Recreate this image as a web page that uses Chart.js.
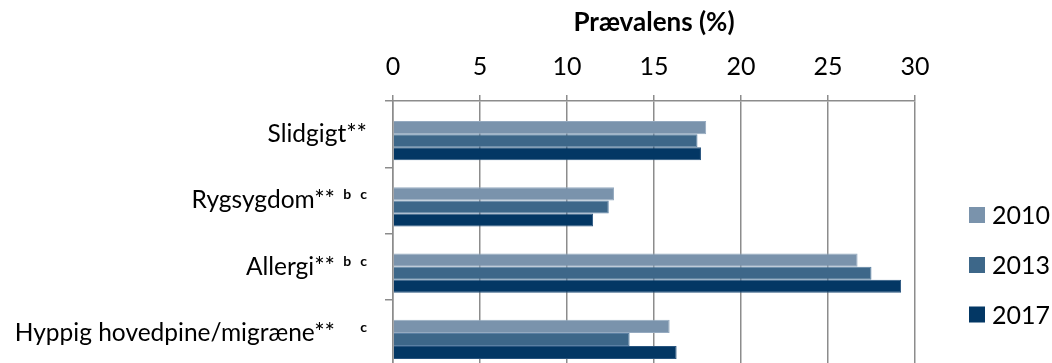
<!DOCTYPE html>
<html>
<head>
<meta charset="utf-8">
<script src="https://cdn.jsdelivr.net/npm/chart.js@4/dist/chart.umd.min.js"></script>
<style>
  html, body { margin: 0; padding: 0; background: #fff; overflow: hidden; }
  #wrap { width: 1052px; height: 366px; position: relative; }
</style>
</head>
<body>
<div id="wrap"><canvas id="chart" width="1052" height="366"></canvas></div>
<script>
// Prevalence (%) by condition and survey year
const categories = ['Slidgigt**', 'Rygsygdom**', 'Allergi**', 'Hyppig hovedpine/migræne**'];
const notes = ['', 'b c', 'b c', 'c'];
const years = ['2010', '2013', '2017'];
const values2010 = [18.0, 12.7, 26.7, 15.9];
const values2013 = [17.5, 12.4, 27.5, 13.6];
const values2017 = [17.7, 11.5, 29.2, 16.3];
const xTicks = [0, 5, 10, 15, 20, 25, 30];

const FONT = 'Lato, "Open Sans", sans-serif';
const GRID = '#8c8c8c';
const fills = ['#7a93ac', '#3d6789', '#033764'];
const edges = ['#95aac0', '#5b80a3', '#29557f'];

// Category labels with bold superscript notes, placed on the y scale's pixels
const categoryLabels = {
  id: 'categoryLabels',
  afterDraw(chart) {
    const { ctx } = chart;
    const y = chart.scales.y;
    const right = 367;
    ctx.save();
    ctx.fillStyle = '#000';
    ctx.textBaseline = 'alphabetic';
    categories.forEach((name, i) => {
      const base = y.getPixelForValue(i) + 8;
      const note = notes[i];
      let x = right;
      if (note) {
        // note letters, right to left, with a wide gap between them
        ctx.font = 'bold 14px ' + FONT;
        ctx.textAlign = 'right';
        const letters = note.split(' ').reverse();
        letters.forEach(ch => {
          ctx.fillText(ch, x, base - 9);
          x -= ctx.measureText(ch).width + 9;
        });
        x = right - 32;
      }
      ctx.font = '24.5px ' + FONT;
      ctx.textAlign = 'right';
      ctx.fillText(name, x, base);
    });
    ctx.restore();
  }
};

// Legend for the three survey years, stacked at the right
const yearLegend = {
  id: 'yearLegend',
  afterDraw(chart) {
    const { ctx } = chart;
    const rows = [215, 265, 314.5];
    ctx.save();
    ctx.font = '25px ' + FONT;
    ctx.textAlign = 'left';
    ctx.textBaseline = 'middle';
    chart.data.datasets.slice(1).forEach((ds, i) => {
      ctx.fillStyle = ds.backgroundColor;
      ctx.fillRect(969, rows[i] - 8, 16, 16);
      ctx.fillStyle = '#000';
      ctx.fillText(ds.label, 992, rows[i] + 1);
    });
    ctx.restore();
  }
};

const datasets = [
  // empty leading slot in each category group
  { label: '', data: categories.map(() => null), backgroundColor: 'rgba(0,0,0,0)' }
].concat(years.map((yr, i) => ({
  label: yr,
  data: [values2010, values2013, values2017][i],
  backgroundColor: fills[i],
  borderColor: edges[i],
  borderWidth: 1,
  borderSkipped: 'start'
})));

new Chart(document.getElementById('chart'), {
  type: 'bar',
  data: { labels: categories, datasets },
  options: {
    indexAxis: 'y',
    responsive: false,
    devicePixelRatio: 1,
    animation: false,
    layout: { padding: { left: 0, right: 137, top: 0, bottom: 0 } },
    datasets: { bar: { categoryPercentage: 0.785, barPercentage: 1.0 } },
    plugins: { legend: { display: false }, tooltip: { enabled: false } },
    scales: {
      x: {
        position: 'top',
        min: 0,
        max: 30,
        afterBuildTicks(scale) { scale.ticks = xTicks.map(v => ({ value: v })); },
        afterFit(scale) { scale.height = 101; },
        ticks: { font: { family: FONT, size: 25 }, color: '#000', padding: 13 },
        grid: { color: GRID, lineWidth: 1.5, tickLength: 6 },
        border: { display: true, color: GRID, width: 1.5 },
        title: {
          display: true,
          text: 'Prævalens (%)',
          font: { family: FONT, size: 26, weight: 'bold' },
          color: '#000',
          padding: { top: 7, bottom: 0 }
        }
      },
      y: {
        type: 'category',
        offset: true,
        afterFit(scale) { scale.width = 393; },
        ticks: { display: false },
        grid: { offset: true, drawOnChartArea: false, drawTicks: true, tickLength: 8, color: GRID, lineWidth: 1.5 },
        border: { display: true, color: GRID, width: 1.5 }
      }
    }
  },
  plugins: [categoryLabels, yearLegend]
});
</script>
</body>
</html>
